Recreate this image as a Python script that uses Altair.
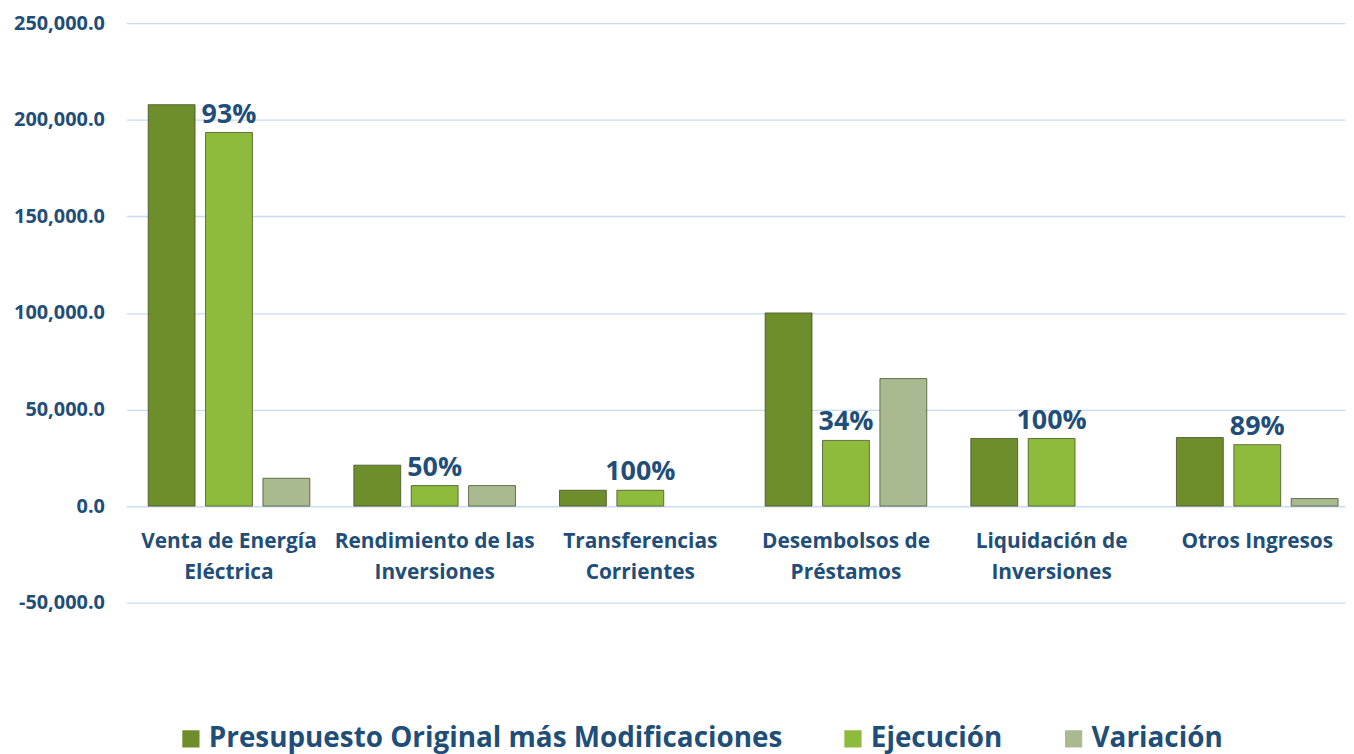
import altair as alt
import pandas as pd

categories = [
    "Venta de Energía\nEléctrica",
    "Rendimiento de las\nInversiones",
    "Transferencias\nCorrientes",
    "Desembolsos de\nPréstamos",
    "Liquidación de\nInversiones",
    "Otros Ingresos",
]
series = ["Presupuesto Original más Modificaciones", "Ejecución", "Variación"]
presupuesto = [207800, 21200, 8200, 100000, 35000, 35500]
ejecucion = [193400, 10600, 8200, 34000, 35000, 31800]
variacion = [14400, 10600, 0, 66000, 0, 3900]
pct_labels = ["93%", "50%", "100%", "34%", "100%", "89%"]

colors = ["#6E8E2C", "#8FBB3D", "#AABA90"]
text_color = "#1F4E79"
font = "Open Sans"

rows = []
for i, c in enumerate(categories):
    for s, vals in zip(series, [presupuesto, ejecucion, variacion]):
        rows.append({"cat": c, "serie": s, "valor": vals[i],
                     "pct": pct_labels[i] if s == "Ejecución" else ""})
df = pd.DataFrame(rows)

x = alt.X("cat:N", sort=categories, title=None,
          scale=alt.Scale(paddingInner=0.214, paddingOuter=0.07, align=0.76),
          axis=alt.Axis(labelExpr="split(datum.label, '\\n')", labelAngle=0,
                        labelFont=font, labelFontSize=21, labelFontWeight="bold",
                        labelColor=text_color, labelLineHeight=31, labelPadding=25,
                        ticks=False, domain=False, offset=-97.17, labelBaseline="top",
                        labelLimit=300))
xo = alt.XOffset("serie:N", sort=series, scale=alt.Scale(paddingInner=0.183))
y = alt.Y("valor:Q", title=None,
          scale=alt.Scale(domain=[-50000, 250000], nice=False),
          axis=alt.Axis(values=[-50000, 0, 50000, 100000, 150000, 200000, 250000],
                        labelExpr="replace(format(datum.value, ',.1f'), '\u2212', '-')",
                        labelFont=font, labelFontSize=20, labelFontWeight="bold",
                        labelColor=text_color, labelPadding=22, ticks=False,
                        domain=False, gridColor="#C9DCF2", gridWidth=1.3))

bars = alt.Chart(df).transform_filter("datum.valor != 0").mark_bar(
    stroke="#34421A", strokeWidth=1, strokeOpacity=0.7
).encode(
    x=x, xOffset=xo, y=y,
    color=alt.Color("serie:N", sort=series,
                    scale=alt.Scale(domain=series, range=colors),
                    legend=alt.Legend(title=None, orient="none", legendX=51, legendY=706,
                                      direction="horizontal", symbolType="square",
                                      symbolSize=300, symbolStrokeWidth=0,
                                      labelFont=font, labelFontSize=28,
                                      labelFontWeight="bold", labelColor=text_color,
                                      columnPadding=57, labelOffset=4, padding=0,
                                      labelLimit=800)),
)

labels = alt.Chart(df).transform_filter("datum.pct != ''").mark_text(
    font=font, fontSize=27, fontWeight="bold", color=text_color,
    baseline="bottom", dy=-4
).encode(x=x, xOffset=xo, y=y, text="pct:N")

chart = alt.layer(bars, labels).properties(
    width=1226, height=583,
    autosize=alt.AutoSizeParams(type="none"),
    padding={"left": 119, "top": 13, "right": 1, "bottom": 150},
).configure_view(stroke=None)

chart.save("out.html", embed_options={"renderer": "svg", "actions": False})
